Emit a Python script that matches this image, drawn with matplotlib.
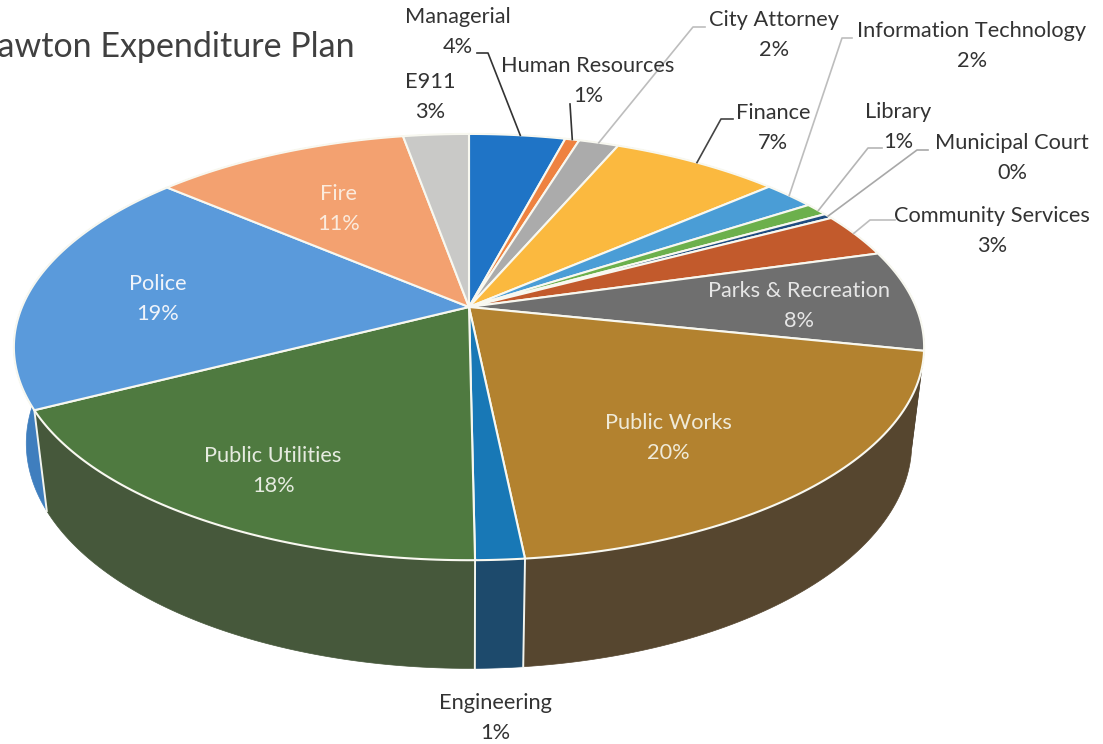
import numpy as np
import matplotlib
matplotlib.use("Agg")
import matplotlib.pyplot as plt

plt.rcParams['font.family'] = ['Lato', 'DejaVu Sans']

# expenditure share per department, clockwise from 12 o'clock
departments = ["Managerial", "Human Resources", "City Attorney", "Finance",
               "Information Technology", "Library", "Municipal Court",
               "Community Services", "Parks & Recreation", "Public Works",
               "Engineering", "Public Utilities", "Police", "Fire", "E911"]
shares = [4.1, 0.6, 1.7, 7.2, 2.2, 1.0, 0.4, 3.4, 7.7, 20.1, 1.45, 17.6, 18.9, 10.9, 2.8]

top_colors = ["#1F74C6", "#EE8240", "#ABABAB", "#FBB93F", "#4A9DD6", "#6CB04C", "#1F4C80",
              "#C25A2C", "#6F6F6F", "#B3822F", "#1878B6", "#4F7A40", "#5A9ADB", "#F3A170", "#C9C9C7"]
wall_colors = ["#175A99", "#B5622F", "#828282", "#BF8D30", "#3A79A4", "#52863A", "#183A62",
               "#944422", "#545454", "#56462F", "#1D4A6C", "#46583B", "#3F7EBE", "#B97A55", "#999998"]

# label placement, pixels: text centre, then leader line elbow points
label_pos = [(458, 32), (588, 81), (774, 35), (773, 128), (972, 46), (898, 127), (1012, 158),
             (992, 231), (799, 306), (668, 438), (495, 718), (273, 471), (158, 299), (339, 209), (430, 97)]
label_color = ["#333333"] * 8 + ["#E6E6E6", "#EFEAD8", "#333333", "#E6EBE0", "#F0F4FA", "#FBEBDD", "#333333"]
leaders = {
    0: ([(477, 53), (488, 53)], "#333333"),
    1: ([(570, 104)], "#333333"),
    2: ([(705, 27), (693, 27)], "#BDBDBD"),
    3: ([(733, 119), (721, 119)], "#444444"),
    4: ([(852, 38), (842, 38)], "#BDBDBD"),
    5: ([(882, 148), (868, 148)], "#B5B5B5"),
    6: ([(928, 150), (917, 150)], "#A8A8A8"),
    7: ([(895, 220), (870, 220)], "#BDBDBD"),
}
leader_anchor = {0: 0.53, 1: 0.5, 2: 0.5, 3: 0.5, 4: 0.5, 5: 0.6, 6: 0.5, 7: 0.45}

# tilted disc, pixel coordinates
CX, CY = 469, 307
A, B, K = 447, 205.6, 0.188
DEPTH, SHRINK = 97.6, 0.027


def project(theta, z=0.0):
    u, v = np.sin(theta), np.cos(theta)
    w = 1 + K * v + SHRINK * z
    return CX + A * u / w, CY + (-B * v + DEPTH * z) / w


fig = plt.figure(figsize=(11.03, 7.44), dpi=100)
ax = fig.add_axes([0, 0, 1, 1])
ax.set_xlim(0, 1103)
ax.set_ylim(744, 0)
ax.axis("off")

edges = np.cumsum([0] + shares) / sum(shares) * 2 * np.pi

# side walls first, the top face covers whatever is behind it
for i in range(len(shares)):
    t = np.linspace(edges[i], edges[i + 1], 80)
    xt, yt = project(t)
    xb, yb = project(t, 1.0)
    ax.fill(np.r_[xt, xb[::-1]], np.r_[yt, yb[::-1]], color=wall_colors[i], lw=0.5, zorder=1)

# white seams on the front of the wall
for e in edges:
    if np.cos(e) < -0.3:
        xs, ys = zip(project(e), project(e, 1.0))
        ax.plot(xs, ys, color="#F2F4EE", lw=1.4, zorder=2)

for i in range(len(shares)):
    t = np.linspace(edges[i], edges[i + 1], 80)
    x, y = project(t)
    ax.fill(np.r_[CX, x], np.r_[CY, y], facecolor=top_colors[i], edgecolor="#F8F8F0",
            lw=1.5, joinstyle="round", zorder=3)

# leader lines end on the rim of each slice
for i, (pts, col) in leaders.items():
    rim = project(edges[i] + leader_anchor[i] * (edges[i + 1] - edges[i]))
    xs, ys = zip(*(pts + [rim]))
    ax.plot(xs, ys, color=col, lw=1.2, zorder=4)

for name, val, pos, col in zip(departments, shares, label_pos, label_color):
    ax.text(pos[0], pos[1], f"{name}\n{val:.0f}%", ha="center", va="center", color=col,
            fontsize=15.7, linespacing=1.62, zorder=5)

ax.text(355, 47, "Lawton Expenditure Plan", ha="right", va="center", color="#404040", fontsize=24.5)

fig.savefig("out.png", dpi=100)
